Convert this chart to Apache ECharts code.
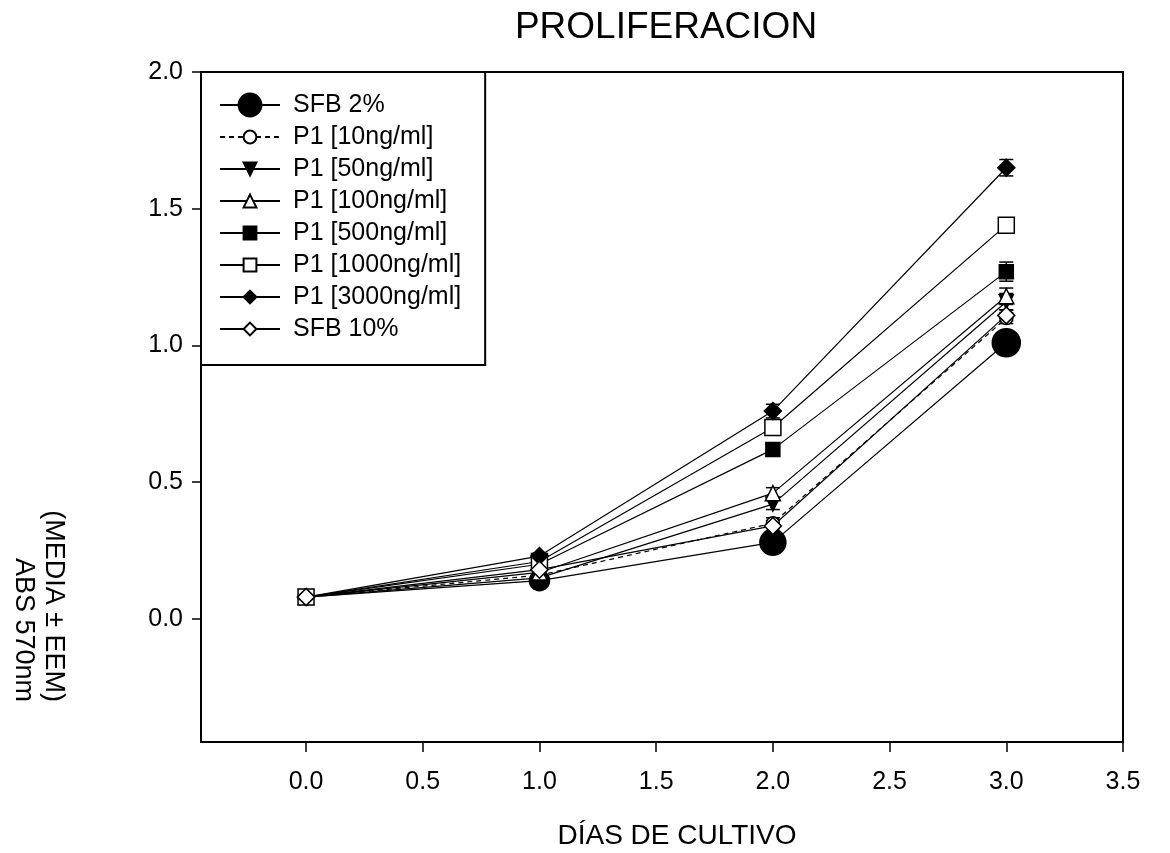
<!DOCTYPE html>
<html>
<head>
<meta charset="utf-8">
<title>PROLIFERACION</title>
<script src="https://cdn.jsdelivr.net/npm/echarts@6.0.0/dist/echarts.min.js"></script>
<style>
    html, body { margin: 0; padding: 0; background: #fff; }
    #main { width: 1170px; height: 853px; }
</style>
</head>
<body>
<div id="main"></div>
<script>
    // datos (ABS 570nm)
    const days = [0, 1, 2, 3];
    const names = ['SFB 2%', 'P1 [10ng/ml]', 'P1 [50ng/ml]', 'P1 [100ng/ml]',
        'P1 [500ng/ml]', 'P1 [1000ng/ml]', 'P1 [3000ng/ml]', 'SFB 10%'];

    const sfb2 = [0.08, 0.14, 0.28, 1.01];
    const p1_10 = [0.08, 0.16, 0.35, 1.10];
    const p1_50 = [0.08, 0.15, 0.42, 1.16];
    const p1_100 = [0.08, 0.17, 0.46, 1.18];
    const p1_500 = [0.08, 0.20, 0.62, 1.27];
    const p1_1000 = [0.08, 0.21, 0.70, 1.44];
    const p1_3000 = [0.08, 0.23, 0.76, 1.65];
    const sfb10 = [0.08, 0.18, 0.34, 1.11];

    // EEM
    const err_sfb2 = [0.01, 0.01, 0.02, 0.02];
    const err_p1_10 = [0.01, 0.01, 0.02, 0.02];
    const err_p1_50 = [0.01, 0.01, 0.02, 0.03];
    const err_p1_100 = [0.01, 0.01, 0.02, 0.03];
    const err_p1_500 = [0.01, 0.01, 0.02, 0.035];
    const err_p1_1000 = [0.01, 0.01, 0.025, 0.02];
    const err_p1_3000 = [0.01, 0.01, 0.025, 0.03];
    const err_sfb10 = [0.01, 0.02, 0.02, 0.02];

    const xTicks = [0, 0.5, 1, 1.5, 2, 2.5, 3, 3.5];
    const yTicks = [0, 0.5, 1, 1.5, 2];

    const values = [sfb2, p1_10, p1_50, p1_100, p1_500, p1_1000, p1_3000, sfb10];
    const errors = [err_sfb2, err_p1_10, err_p1_50, err_p1_100, err_p1_500, err_p1_1000, err_p1_3000, err_sfb10];

    // estilo de cada marcador (size puede ser uno por dia)
    const markers = [
        {symbol: 'circle', size: [14, 20, 26, 28], fill: '#000'},
        {symbol: 'circle', size: 13, fill: '#fff', dashed: true},
        {symbol: 'triangle', size: 14, fill: '#000', rotate: 180},
        {symbol: 'triangle', size: 15, fill: '#fff'},
        {symbol: 'rect', size: 14, fill: '#000'},
        {symbol: 'rect', size: 16, fill: '#fff'},
        {symbol: 'diamond', size: 17, fill: '#000'},
        {symbol: 'diamond', size: 17, fill: '#fff'}
    ];

    const font = "'Liberation Sans', Arial, sans-serif";

    function renderErr(params, api) {
        const x = api.value(0), y = api.value(1), e = api.value(2);
        const top = api.coord([x, y + e]);
        const bot = api.coord([x, y - e]);
        const w = 7;
        const st = {stroke: '#000', lineWidth: 1.5};
        return {
            type: 'group',
            children: [
                {type: 'line', shape: {x1: top[0], y1: top[1], x2: bot[0], y2: bot[1]}, style: st},
                {type: 'line', shape: {x1: top[0] - w, y1: top[1], x2: top[0] + w, y2: top[1]}, style: st},
                {type: 'line', shape: {x1: bot[0] - w, y1: bot[1], x2: bot[0] + w, y2: bot[1]}, style: st}
            ]
        };
    }

    const series = [];
    for (let i = 0; i < names.length; i++) {
        const m = markers[i];
        series.push({
            name: names[i],
            type: 'line',
            z: 3,
            data: days.map((d, j) => [d, values[i][j]]),
            symbol: m.symbol,
            symbolSize: Array.isArray(m.size) ? (val, p) => m.size[p.dataIndex] : m.size,
            symbolRotate: m.rotate || 0,
            showAllSymbol: true,
            lineStyle: {color: '#000', width: 1.2, type: m.dashed ? [5, 4] : 'solid'},
            itemStyle: {color: m.fill, borderColor: '#000', borderWidth: 1.5},
            emphasis: {disabled: true}
        });
    }
    // barras de error (debajo de los marcadores)
    for (let i = 0; i < names.length; i++) {
        series.push({
            type: 'custom',
            z: 2,
            silent: true,
            renderItem: renderErr,
            data: days.map((d, j) => [d, values[i][j], errors[i][j]])
        });
    }

    // el circulo grande de SFB 2% en la leyenda
    const legendData = names.map((n, i) => i === 0 ? {name: n, itemStyle: {borderWidth: 12}} : n);

    const chart = echarts.init(document.getElementById('main'));
    chart.setOption({
        animation: false,
        backgroundColor: '#fff',
        textStyle: {fontFamily: font},
        grid: {
            left: 201, right: 47, top: 72, bottom: 111,
            show: true, borderColor: '#000', borderWidth: 2
        },
        legend: {
            data: legendData,
            left: 201,
            top: 72,
            orient: 'vertical',
            align: 'left',
            itemWidth: 60,
            itemHeight: 16,
            itemGap: 6,
            padding: [20, 24, 23, 18],
            backgroundColor: '#fff',
            borderColor: '#000',
            borderWidth: 2,
            selectedMode: false,
            textStyle: {
                fontFamily: font, fontSize: 25, color: '#000',
                lineHeight: 26, padding: [0, 0, 0, 8]
            }
        },
        xAxis: {
            type: 'value',
            min: -0.45,
            max: 3.5,
            axisLine: {show: true, onZero: false, lineStyle: {color: '#000', width: 2}},
            axisTick: {show: true, length: 10, customValues: xTicks, lineStyle: {color: '#000', width: 1.5}},
            axisLabel: {
                customValues: xTicks, margin: 28, color: '#000',
                fontFamily: font, fontSize: 25,
                formatter: v => v.toFixed(1)
            },
            splitLine: {show: false}
        },
        yAxis: {
            type: 'value',
            min: -0.45,
            max: 2.0,
            axisLine: {show: true, onZero: false, lineStyle: {color: '#000', width: 2}},
            axisTick: {show: true, length: 9, customValues: yTicks, lineStyle: {color: '#000', width: 1.5}},
            axisLabel: {
                customValues: yTicks, margin: 18, color: '#000',
                fontFamily: font, fontSize: 25,
                formatter: v => v.toFixed(1)
            },
            splitLine: {show: false}
        },
        graphic: [
            {
                type: 'text', x: 666, y: 28,
                style: {text: 'PROLIFERACION', font: '37px ' + font, fill: '#000', align: 'center', verticalAlign: 'middle'}
            },
            {
                type: 'text', x: 677, y: 836,
                style: {text: 'DÍAS DE CULTIVO', font: '28px ' + font, fill: '#000', align: 'center', verticalAlign: 'middle'}
            },
            {
                type: 'text', x: 38, y: 702, rotation: -Math.PI / 2,
                style: {
                    text: '(MEDIA ± EEM)\nABS 570nm', font: '27px ' + font, lineHeight: 30,
                    fill: '#000', align: 'right', verticalAlign: 'middle'
                }
            }
        ],
        series: series
    });
</script>
</body>
</html>
